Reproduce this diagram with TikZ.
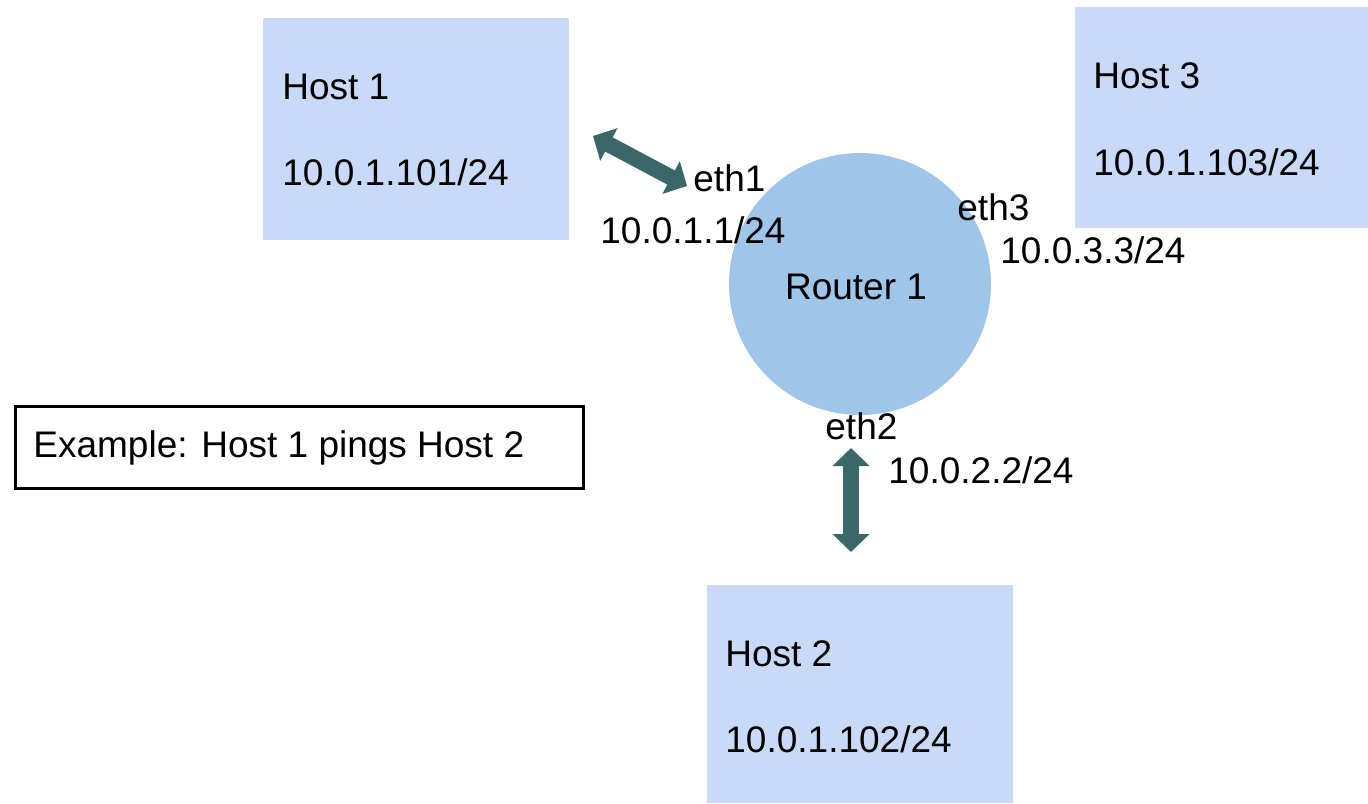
\documentclass[tikz,border=0pt]{standalone}
\usepackage{fontspec}
\setmainfont{Liberation Sans}
\usetikzlibrary{arrows.meta}
\definecolor{hostfill}{RGB}{201,218,248}
\definecolor{routerfill}{RGB}{159,197,232}
\definecolor{linkteal}{RGB}{58,104,104}
\begin{document}
\begin{tikzpicture}[x=0.5pt,y=-0.5pt,
  hostbox/.style={rectangle, fill=hostfill, draw=none, minimum width=#1*0.5pt, inner sep=0pt},
  router/.style={circle, fill=routerfill, draw=none, minimum size=131pt, inner sep=0pt},
  lbl/.style={anchor=base west, inner sep=0pt, font=\fontsize{18.5}{22}\selectfont},
  link/.style={draw=linkteal, line width=8pt,
    {Triangle[width=18pt,length=9pt]}-{Triangle[width=18pt,length=9pt]}}
]
\useasboundingbox (0,0) rectangle (1368,803);

% hosts
\node[hostbox=306, minimum height=111pt] (hostone) at (416,129) {};
\node[hostbox=293, minimum height=110.5pt] (hostthree) at (1221.5,117.5) {};
\node[hostbox=306, minimum height=109pt] (hosttwo) at (860,694) {};

% router
\node[router] (router) at (860,284) {};
\node[anchor=base, inner sep=0pt, font=\fontsize{18.5}{22}\selectfont] (routerlbl) at (856,299) {Router 1};

% host labels
\node[lbl] (h1name) at (282,99) {Host 1};
\node[lbl] (h1ip) at (282,185) {10.0.1.101/24};
\node[lbl] (h3name) at (1093,88) {Host 3};
\node[lbl] (h3ip) at (1093,175) {10.0.1.103/24};
\node[lbl] (h2name) at (725,666) {Host 2};
\node[lbl] (h2ip) at (725,752) {10.0.1.102/24};

% interface labels
\node[lbl] (ethone) at (693,191) {eth1};
\node[lbl] (ethoneip) at (600,243) {10.0.1.1/24};
\node[lbl] (eththree) at (957,220) {eth3};
\node[lbl] (eththreeip) at (1000,263) {10.0.3.3/24};
\node[lbl] (ethtwo) at (825,439) {eth2};
\node[lbl] (ethtwoip) at (888,483) {10.0.2.2/24};

% caption box
\node[draw=black, line width=1.5pt, minimum width=284pt, minimum height=41pt, inner sep=0pt] (example) at (299,447.5) {};
\node[lbl] (examplelbl) at (33,457) {Example: Host 1 pings Host 2};

% links
\coordinate (linkAa) at (593,136);
\coordinate (linkAb) at (687,186);
\coordinate (linkBa) at (851,448);
\coordinate (linkBb) at (851,552);
\draw[link] (linkAa) -- (linkAb);
\draw[link] (linkBa) -- (linkBb);
\end{tikzpicture}
\end{document}
